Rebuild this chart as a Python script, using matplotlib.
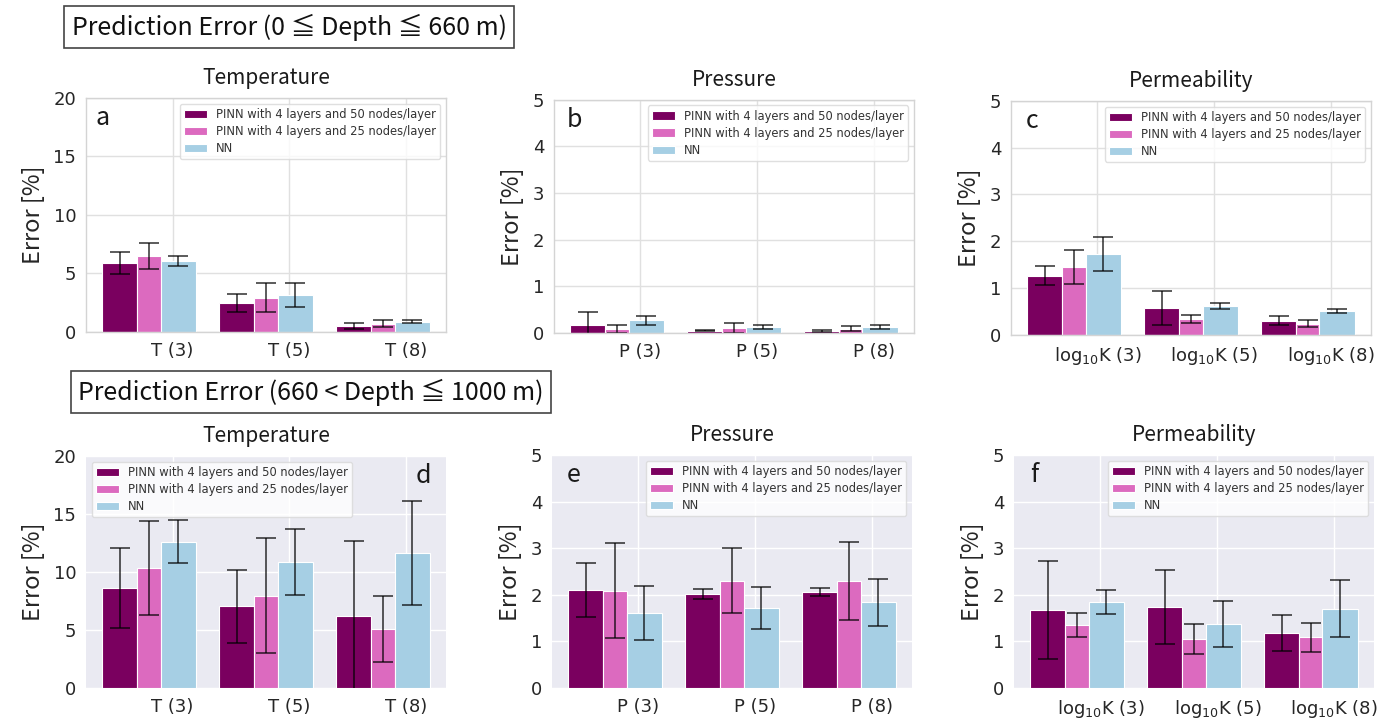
import numpy as np
import matplotlib
matplotlib.use('Agg')
import matplotlib.pyplot as plt

# ---------------------------------------------------------------------
# data, error in [%]
series = ["PINN with 4 layers and 50 nodes/layer",
          "PINN with 4 layers and 25 nodes/layer",
          "NN"]
colors = ["#7a005f", "#dc6abf", "#a6cfe4"]

temp_labels = ["T (3)", "T (5)", "T (8)"]
pres_labels = ["P (3)", "P (5)", "P (8)"]
perm_labels = [r"log$_{10}$K (3)", r"log$_{10}$K (5)", r"log$_{10}$K (8)"]

# shallow (0 - 660 m)
temp_shallow     = [[5.86, 2.43, 0.51], [6.49, 2.94, 0.71], [6.06, 3.17, 0.89]]
temp_shallow_err = [[0.93, 0.77, 0.26], [1.10, 1.28, 0.29], [0.42, 1.04, 0.10]]
pres_shallow     = [[0.18, 0.05, 0.045], [0.09, 0.11, 0.09], [0.27, 0.13, 0.13]]
pres_shallow_err = [[0.26, 0.01, 0.02], [0.09, 0.10, 0.05], [0.09, 0.04, 0.05]]
perm_shallow     = [[1.26, 0.57, 0.30], [1.45, 0.34, 0.24], [1.73, 0.62, 0.51]]
perm_shallow_err = [[0.20, 0.37, 0.10], [0.36, 0.09, 0.08], [0.37, 0.07, 0.05]]

# deep (660 - 1000 m)
temp_deep     = [[8.62, 7.04, 6.21], [10.37, 7.96, 5.11], [12.61, 10.89, 11.67]]
temp_deep_err = [[3.46, 3.16, 6.46], [4.08, 4.96, 2.87], [1.85, 2.87, 4.50]]
pres_deep     = [[2.11, 2.02, 2.06], [2.09, 2.30, 2.30], [1.61, 1.71, 1.84]]
pres_deep_err = [[0.58, 0.115, 0.09], [1.02, 0.70, 0.84], [0.57, 0.45, 0.50]]
perm_deep     = [[1.68, 1.74, 1.18], [1.35, 1.05, 1.09], [1.85, 1.37, 1.70]]
perm_deep_err = [[1.05, 0.79, 0.38], [0.25, 0.32, 0.31], [0.26, 0.50, 0.61]]
# ---------------------------------------------------------------------

jp = ['Noto Sans CJK JP', 'DejaVu Sans']
plt.rcParams['font.family'] = 'DejaVu Sans'

fig = plt.figure(figsize=(13.79, 7.2), dpi=100)


def panel(rect, vals, errs, labels, ymax, title, letter, letter_x, dark, legloc):
    ax = fig.add_axes(rect)
    if dark:
        ax.set_facecolor("#eaeaf2")
        gridc = "white"
        for s in ax.spines.values():
            s.set_visible(False)
    else:
        ax.set_facecolor("white")
        gridc = "#e0e0e0"
        for s in ax.spines.values():
            s.set_color("#d4d4d4")
            s.set_linewidth(1.0)
    ax.set_axisbelow(True)
    ax.grid(True, color=gridc, linewidth=1.0)

    x = np.arange(len(labels))
    offsets = [-0.45, -0.2, 0.05]
    widths = [0.3, 0.2, 0.3]
    for i in range(3):
        ax.bar(x + offsets[i], vals[i], width=widths[i], yerr=errs[i], color=colors[i],
               edgecolor="white", linewidth=0.8, label=series[i], capsize=7.5,
               error_kw=dict(ecolor="black", alpha=0.75, elinewidth=1.2, capthick=1.2))

    ax.set_ylim(0, ymax)
    ax.set_xticks(x)
    ax.set_xticklabels(labels, fontsize=13)
    ax.tick_params(axis='both', length=0, pad=7, labelsize=13, colors="#262626")
    ax.set_ylabel("Error [%]", fontsize=17, family=jp, color="#262626", labelpad=6)
    ax.set_title(title, fontsize=15, family=jp, pad=10, color="#1a1a1a")
    ax.text(letter_x, 0.915, letter, transform=ax.transAxes, fontsize=18, family=jp,
            ha='center', va='center', color="#1a1a1a")
    leg = ax.legend(loc=legloc, fontsize=8.3, frameon=True, framealpha=0.8,
                    labelcolor="#333333", labelspacing=0.35, borderpad=0.35)
    leg.get_frame().set_edgecolor("#d8d8d8")
    return ax


w = 0.261
panel([0.0624, 0.539, w, 0.325], temp_shallow, temp_shallow_err, temp_labels, 20,
      "Temperature", "a", 0.047, False, "upper right")
panel([0.4017, 0.5375, w, 0.324], pres_shallow, pres_shallow_err, pres_labels, 5,
      "Pressure", "b", 0.056, False, "upper right")
panel([0.7331, 0.535, w, 0.325], perm_shallow, perm_shallow_err, perm_labels, 5,
      "Permeability", "c", 0.06, False, "upper right")

panel([0.0624, 0.0444, w, 0.322], temp_deep, temp_deep_err, temp_labels, 20,
      "Temperature", "d", 0.936, True, "upper left")
panel([0.4003, 0.0444, w, 0.3236], pres_deep, pres_deep_err, pres_labels, 5,
      "Pressure", "e", 0.06, True, "upper right")
panel([0.7353, 0.0444, w, 0.3236], perm_deep, perm_deep_err, perm_labels, 5,
      "Permeability", "f", 0.055, True, "upper right")

box = dict(boxstyle="square,pad=0.3", facecolor="white", edgecolor="#444444", linewidth=1.2)
fig.text(0.052, 0.9625, "Prediction Error (0 ≦ Depth ≦ 660 m)", fontsize=18, family=jp,
         va='center', ha='left', bbox=box, color="#111111")
fig.text(0.0566, 0.4556, "Prediction Error (660 < Depth ≦ 1000 m)", fontsize=18, family=jp,
         va='center', ha='left', bbox=box, color="#111111")

fig.savefig("out.png", dpi=100)
